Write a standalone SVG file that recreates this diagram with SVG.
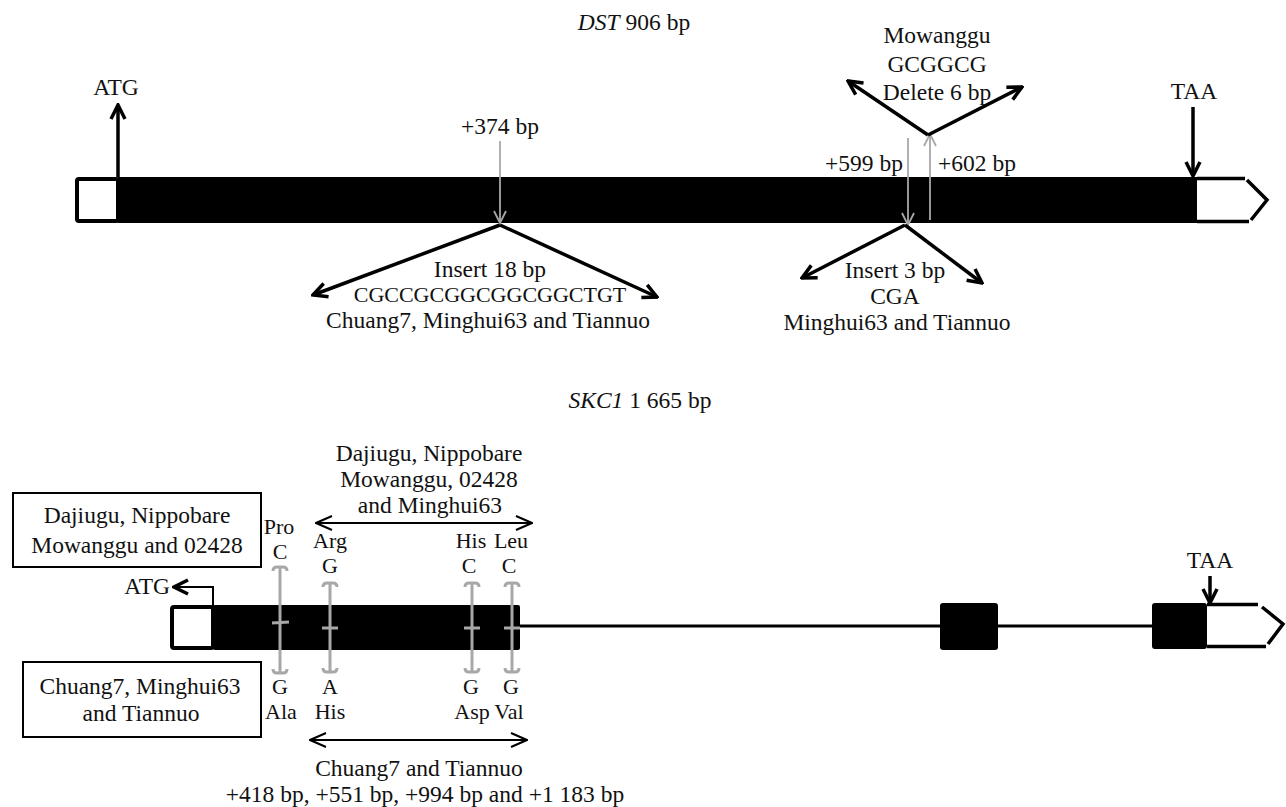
<svg xmlns="http://www.w3.org/2000/svg" width="1286" height="807" viewBox="0 0 1286 807">
<style>
text{font-family:"Liberation Serif","Times New Roman",serif;font-size:23.5px;fill:#111;}
.c{text-anchor:middle}
.e{text-anchor:end}
.it{font-style:italic}
.sm{font-size:22px}
.blk{stroke:#000;stroke-width:3.5;fill:none}
.gry{stroke:#a8a8a8;stroke-width:1.8;fill:none}
.thin{stroke:#000;stroke-width:2;fill:none}
.brk{stroke:#a8a8a8;stroke-width:3;fill:none}
.utr{stroke:#000;stroke-width:3.5;fill:none}
.box{fill:#fff;stroke:#000;stroke-width:2}
</style>
<defs>
<marker id="ab" viewBox="0 0 18 18" refX="16" refY="9" markerWidth="18" markerHeight="18" markerUnits="userSpaceOnUse" orient="auto">
<path d="M2,2 L16,9 L2,16" stroke="#000" stroke-width="3.5" fill="none"/>
</marker>
<marker id="ag" viewBox="0 0 14 14" refX="13" refY="7" markerWidth="14" markerHeight="14" markerUnits="userSpaceOnUse" orient="auto">
<path d="M1,1 L13,7 L1,13" stroke="#a8a8a8" stroke-width="1.8" fill="none"/>
</marker>
<marker id="at" viewBox="0 0 18 18" refX="17" refY="9" markerWidth="18" markerHeight="18" markerUnits="userSpaceOnUse" orient="auto-start-reverse">
<path d="M1,2 L17,9 L1,16" stroke="#000" stroke-width="2" fill="none"/>
</marker>
</defs>

<g id="dst-title"><text class="c" x="634" y="30"><tspan class="it">DST</tspan> 906 bp</text></g>

<g id="dst-gene">
<rect x="118" y="177" width="1079" height="46" fill="#000"/>
<rect x="77" y="179" width="41" height="42" rx="2" fill="#fff" stroke="#000" stroke-width="4"/>
<path class="utr" d="M1197,178.5 L1245,178.5 M1247,180 L1267,200 L1251,220 M1249,221.5 L1197,221.5"/>
</g>

<g id="dst-atg"><text class="c" x="116" y="95">ATG</text></g>
<g id="dst-taa"><text class="c" x="1194" y="99">TAA</text></g>
<g id="dst-374"><text class="c" x="500" y="134">+374 bp</text></g>
<g id="dst-mowanggu">
<text class="c" x="937" y="43">Mowanggu</text>
<text class="c" x="937" y="72">GCGGCG</text>
<text class="c" x="937" y="100">Delete 6 bp</text>
</g>
<g id="dst-599"><text class="e" x="903" y="171">+599 bp</text></g>
<g id="dst-602"><text x="938" y="171">+602 bp</text></g>
<g id="dst-insert18">
<text class="c" x="490" y="277">Insert 18 bp</text>
<text class="c sm" x="490" y="302">CGCCGCGGCGGCGGCTGT</text>
<text class="c" x="488" y="328">Chuang7, Minghui63 and Tiannuo</text>
</g>
<g id="dst-insert3">
<text class="c" x="895" y="278">Insert 3 bp</text>
<text class="c" x="895" y="304">CGA</text>
<text class="c" x="897" y="330">Minghui63 and Tiannuo</text>
</g>

<g id="skc1-title"><text class="c" x="640" y="408"><tspan class="it">SKC1</tspan> 1 665 bp</text></g>

<g id="skc1-gene">
<rect x="213" y="605" width="307" height="45" rx="2" fill="#000"/>
<rect x="172" y="607" width="41" height="41" rx="2" fill="#fff" stroke="#000" stroke-width="4"/>
<path d="M520,626 L940,626 M998,626 L1152,626" stroke="#000" stroke-width="3" fill="none"/>
<rect x="940" y="603" width="58" height="47" rx="3" fill="#000"/>
<rect x="1152" y="603" width="55" height="46" rx="3" fill="#000"/>
<path class="utr" d="M1207,604.5 L1258,604.5 M1262,607 L1283,624 L1268,644 M1266,646.5 L1207,646.5"/>
</g>

<g id="skc1-atg"><text class="e" x="170" y="594">ATG</text></g>
<g id="skc1-taa"><text class="c" x="1210" y="568">TAA</text></g>

<g id="box-top">
<rect class="box" x="13" y="493" width="248" height="74"/>
<text class="c" x="137" y="523">Dajiugu, Nippobare</text>
<text class="c" x="137" y="553">Mowanggu and 02428</text>
</g>
<g id="box-bottom">
<rect class="box" x="23" y="662" width="238" height="75"/>
<text class="c" x="140" y="694">Chuang7, Minghui63</text>
<text class="c" x="141" y="721">and Tiannuo</text>
</g>

<g id="group-top-label">
<text class="c" x="429" y="461">Dajiugu, Nippobare</text>
<text class="c" x="429" y="487">Mowanggu, 02428</text>
<text class="c" x="430" y="513">and Minghui63</text>
</g>
<g id="group-bottom-label">
<text class="c" x="419" y="776">Chuang7 and Tiannuo</text>
<text class="c" x="425" y="802">+418 bp, +551 bp, +994 bp and +1 183 bp</text>
</g>

<g id="snp-418">
<text class="c sm" x="279" y="534">Pro</text>
<text class="c sm" x="280" y="559">C</text>
<path class="brk" d="M280,567 L280,673 M273,571 Q273,567 277,567 L283,567 Q287,567 287,571 M273,669 Q273,673 277,673 L283,673 Q287,673 287,669 M272,623 L289,622"/>
<text class="c sm" x="280" y="694">G</text>
<text class="c sm" x="281" y="719">Ala</text>
</g>
<g id="snp-551">
<text class="c sm" x="330" y="548">Arg</text>
<text class="c sm" x="330" y="573">G</text>
<path class="brk" d="M330,583 L330,672 M323,587 Q323,583 327,583 L333,583 Q337,583 337,587 M323,668 Q323,672 327,672 L333,672 Q337,672 337,668 M322,628 L338,628"/>
<text class="c sm" x="330" y="694">A</text>
<text class="c sm" x="330" y="719">His</text>
</g>
<g id="snp-994">
<text class="c sm" x="471" y="548">His</text>
<text class="c sm" x="469" y="573">C</text>
<path class="brk" d="M472,583 L472,672 M465,587 Q465,583 469,583 L475,583 Q479,583 479,587 M465,668 Q465,672 469,672 L475,672 Q479,672 479,668 M464,628 L480,628"/>
<text class="c sm" x="471" y="694">G</text>
<text class="c sm" x="472" y="719">Asp</text>
</g>
<g id="snp-1183">
<text class="c sm" x="511" y="548">Leu</text>
<text class="c sm" x="509" y="573">C</text>
<path class="brk" d="M512,583 L512,672 M505,587 Q505,583 509,583 L515,583 Q519,583 519,587 M505,668 Q505,672 509,672 L515,672 Q519,672 519,668 M504,628 L520,628"/>
<text class="c sm" x="511" y="694">G</text>
<text class="c sm" x="509" y="719">Val</text>
</g>

<g id="connectors">
<line class="blk" x1="118" y1="177" x2="118" y2="105" marker-end="url(#ab)"/>
<line class="blk" x1="1193" y1="107" x2="1193" y2="176" marker-end="url(#ab)"/>
<line class="gry" x1="500" y1="141" x2="500" y2="223" marker-end="url(#ag)"/>
<line class="gry" x1="930" y1="220" x2="930" y2="134" marker-end="url(#ag)"/>
<line class="gry" x1="908" y1="138" x2="908" y2="225" marker-end="url(#ag)"/>
<line class="blk" x1="928" y1="135" x2="848" y2="81" marker-end="url(#ab)"/>
<line class="blk" x1="928" y1="135" x2="1022" y2="87" marker-end="url(#ab)"/>
<line class="blk" x1="500" y1="225" x2="313" y2="295" marker-end="url(#ab)"/>
<line class="blk" x1="500" y1="225" x2="657" y2="297" marker-end="url(#ab)"/>
<line class="blk" x1="905" y1="225" x2="802" y2="278" marker-end="url(#ab)"/>
<line class="blk" x1="905" y1="225" x2="982" y2="283" marker-end="url(#ab)"/>
<path class="thin" d="M213,606 L213,587 L174,587" marker-end="url(#ab)"/>
<line class="blk" x1="1210" y1="576" x2="1210" y2="603" marker-end="url(#ab)"/>
<line class="thin" x1="316" y1="523" x2="532" y2="523" marker-start="url(#at)" marker-end="url(#at)"/>
<line class="thin" x1="310" y1="740" x2="527" y2="740" marker-start="url(#at)" marker-end="url(#at)"/>
</g>
</svg>
